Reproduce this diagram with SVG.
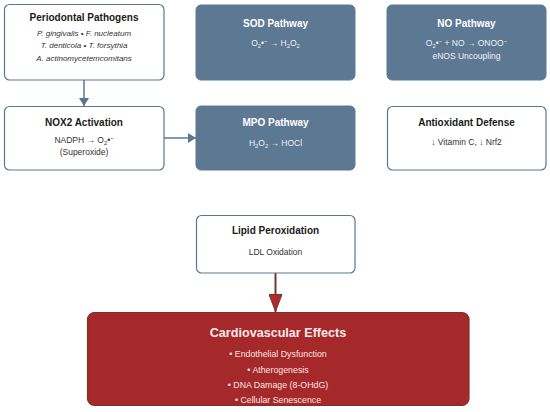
<svg xmlns="http://www.w3.org/2000/svg" width="550" height="412" viewBox="0 0 550 412">
<style>
text{font-family:"Liberation Sans",Arial,sans-serif;text-anchor:middle}
.wb{fill:#ffffff;stroke:#5d7690;stroke-width:1.2}
.bb{fill:#5d7893;stroke:#5d7893;stroke-width:1}
.rb{fill:#a5292a;stroke:#7a3326;stroke-width:1.2}
.t{font-size:10px;font-weight:bold;fill:#1a1a1a}
.tw{font-size:10px;font-weight:bold;fill:#ffffff}
.s{font-size:8.5px;fill:#333333}
.sw{font-size:8.5px;fill:#eef2f6}
.i{font-size:8px;font-style:italic;fill:#333333}
.ct{font-size:12.6px;font-weight:bold;fill:#fbe9e9}
.cs{font-size:8.8px;fill:#fbe3e3}
</style>
<defs>
<marker id="ab" markerWidth="8" markerHeight="10" refX="8" refY="5" orient="auto" markerUnits="userSpaceOnUse"><path d="M0,0 L8,5 L0,10 Z" fill="#5d7690"/></marker>
<marker id="ar" markerWidth="18" markerHeight="14" refX="18" refY="7" orient="auto" markerUnits="userSpaceOnUse"><path d="M0.5,0.5 L17.5,7 L0.5,13.5 Z" fill="#b02a2a" stroke="#6e3a2a" stroke-width="1"/></marker>
</defs>
<g id="connectors">
<line x1="84" y1="80" x2="84" y2="106" stroke="#5d7690" stroke-width="1.5" marker-end="url(#ab)"/>
<line x1="164" y1="138" x2="196" y2="138" stroke="#5d7690" stroke-width="1.5" marker-end="url(#ab)"/>
<line x1="275.5" y1="273" x2="275.5" y2="312" stroke="#6e3a2a" stroke-width="2" marker-end="url(#ar)"/>
</g>
<g id="periodontal">
<rect class="wb" x="4.5" y="4.5" width="159.5" height="75.5" rx="5"/>
<text class="t" x="84" y="21">Periodontal Pathogens</text>
<text class="i" x="84" y="36">P. gingivalis • F. nucleatum</text>
<text class="i" x="84" y="48">T. denticola • T. forsythia</text>
<text class="i" x="84" y="61">A. actinomycetemcomitans</text>
</g>
<g id="sod">
<rect class="bb" x="196" y="5" width="159" height="75" rx="5"/>
<text class="tw" x="275.5" y="27">SOD Pathway</text>
<text class="sw" x="275.5" y="46">O<tspan font-size="5.8" dy="2">2</tspan><tspan dy="-2">•</tspan><tspan font-size="5.8" dy="-3">−</tspan><tspan dy="3"> → H</tspan><tspan font-size="5.8" dy="2">2</tspan><tspan dy="-2">O</tspan><tspan font-size="5.8" dy="2">2</tspan></text>
</g>
<g id="no">
<rect class="bb" x="387" y="5" width="159" height="75" rx="5"/>
<text class="tw" x="466.5" y="27">NO Pathway</text>
<text class="sw" x="466.5" y="46">O<tspan font-size="5.8" dy="2">2</tspan><tspan dy="-2">•</tspan><tspan font-size="5.8" dy="-3">−</tspan><tspan dy="3"> + NO → ONOO</tspan><tspan font-size="5.8" dy="-3">−</tspan></text>
<text class="sw" x="466.5" y="59">eNOS Uncoupling</text>
</g>
<g id="nox2">
<rect class="wb" x="4.5" y="106.5" width="159.5" height="63.5" rx="5"/>
<text class="t" x="84" y="126">NOX2 Activation</text>
<text class="s" x="84" y="143">NADPH → O<tspan font-size="5.8" dy="2">2</tspan><tspan dy="-2">•</tspan><tspan font-size="5.8" dy="-3">−</tspan></text>
<text class="s" x="84" y="155">(Superoxide)</text>
</g>
<g id="mpo">
<rect class="bb" x="196" y="106" width="159" height="64" rx="5"/>
<text class="tw" x="275.5" y="126">MPO Pathway</text>
<text class="sw" x="275.5" y="146">H<tspan font-size="5.8" dy="2">2</tspan><tspan dy="-2">O</tspan><tspan font-size="5.8" dy="2">2</tspan><tspan dy="-2"> → HOCl</tspan></text>
</g>
<g id="antioxidant">
<rect class="wb" x="387.5" y="106.5" width="158.5" height="63.5" rx="5"/>
<text class="t" x="466.5" y="126">Antioxidant Defense</text>
<text class="s" x="466.5" y="145">↓ Vitamin C, ↓ Nrf2</text>
</g>
<g id="lipid">
<rect class="wb" x="196.5" y="215.5" width="158.5" height="57.5" rx="5"/>
<text class="t" x="275.5" y="234">Lipid Peroxidation</text>
<text class="s" x="275.5" y="255">LDL Oxidation</text>
</g>
<g id="cardio">
<rect class="rb" x="87.5" y="312.5" width="381.5" height="93" rx="7"/>
<text class="ct" x="278" y="337">Cardiovascular Effects</text>
<text class="cs" x="278" y="357">• Endothelial Dysfunction</text>
<text class="cs" x="278" y="373">• Atherogenesis</text>
<text class="cs" x="278" y="388">• DNA Damage (8-OHdG)</text>
<text class="cs" x="278" y="403">• Cellular Senescence</text>
</g>
</svg>
